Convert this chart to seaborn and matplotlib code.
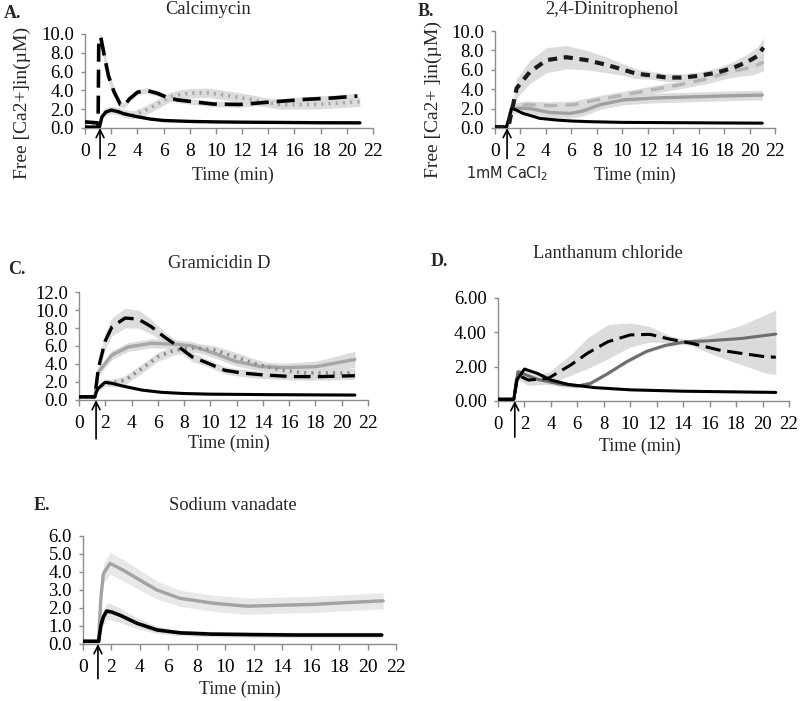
import numpy as np
import pandas as pd
import matplotlib
matplotlib.use("Agg")
import matplotlib.pyplot as plt
import seaborn as sns

# ---------------- data ----------------
# Panel A: Calcimycin
A_t_ctrl = [0, 1.1, 1.3, 1.6, 2.0, 2.5, 3, 4, 5, 6, 8, 10, 12, 14, 16, 18, 21]
A_ctrl = [0.1, 0.1, 1.2, 1.7, 1.9, 1.75, 1.5, 1.2, 0.95, 0.8, 0.7, 0.65, 0.62, 0.6, 0.58, 0.56, 0.55]
A_ctrl_err = [0.05, 0.05, 0.2, 0.25, 0.25, 0.2, 0.15, 0.1, 0.1, 0.1, 0.08, 0.08, 0.08, 0.08, 0.08, 0.08, 0.08]
A_t_calc = [0, 0.9, 1.0, 1.05, 1.2, 1.5, 1.8, 2.2, 2.7, 3.0, 3.4, 4.0, 4.7, 5.5, 6.2, 7.0, 8.2, 9.8, 11.8, 13.6, 15.0, 16.9, 19.0, 20.8]
A_calc = [0.65, 0.55, 0.3, 8.8, 9.7, 7.5, 5.5, 3.9, 2.5, 2.4, 3.1, 3.8, 4.0, 3.7, 3.3, 3.0, 2.8, 2.55, 2.5, 2.7, 2.85, 3.05, 3.2, 3.4]
A_calc_err = [0.05, 0.05, 0.1, 0.3, 0.4, 0.9, 0.7, 0.5, 0.3, 0.3, 0.3, 0.3, 0.3, 0.3, 0.3, 0.3, 0.3, 0.3, 0.3, 0.3, 0.3, 0.3, 0.3, 0.3]
A_t_dot = [0, 1.1, 1.3, 1.6, 2.0, 2.5, 3.0, 3.7, 4.5, 5.2, 6.0, 6.5, 7.2, 8.0, 9.3, 10.2, 11.1, 12.0, 12.8, 14.0, 14.9, 17.5, 21]
A_dot = [0.2, 0.2, 1.3, 1.8, 1.9, 1.8, 1.55, 1.4, 1.8, 2.3, 2.9, 3.3, 3.55, 3.7, 3.75, 3.6, 3.4, 3.2, 3.0, 2.7, 2.5, 2.5, 2.8]
A_dot_err = [0.05, 0.05, 0.3, 0.4, 0.4, 0.4, 0.4, 0.45, 0.5, 0.5, 0.5, 0.5, 0.5, 0.5, 0.5, 0.5, 0.5, 0.5, 0.5, 0.5, 0.5, 0.5, 0.5]

# Panel B: 2,4-Dinitrophenol
B_t_ctrl = [0, 0.9, 1.1, 1.3, 1.6, 2.2, 3.0, 3.5, 4.85, 6.0, 7.5, 10, 14, 18, 21]
B_ctrl = [0.1, 0.1, 1.0, 2.0, 1.9, 1.5, 1.2, 1.0, 0.82, 0.72, 0.65, 0.58, 0.55, 0.52, 0.5]
B_t_dnp = [0, 0.9, 1.1, 1.7, 2.75, 4.06, 5.6, 7.2, 8.8, 10.1, 11.1, 12.4, 13.5, 14.8, 16.1, 17.4, 18.7, 19.8, 20.6, 21.1]
B_dnp = [0.1, 0.1, 0.4, 4.1, 5.8, 7.0, 7.3, 7.0, 6.5, 6.0, 5.6, 5.4, 5.2, 5.2, 5.4, 5.7, 6.2, 6.8, 7.4, 8.3]
B_dnp_err = [0.0, 0.0, 0.3, 1.0, 1.2, 1.3, 1.2, 1.0, 0.8, 0.6, 0.5, 0.4, 0.4, 0.4, 0.4, 0.5, 0.6, 0.8, 0.9, 1.0]
B_t_g1 = [0, 0.9, 1.1, 1.3, 2.0, 2.75, 4.3, 5.9, 6.9, 8.25, 10.1, 12.7, 15.3, 17.9, 21]
B_g1 = [0.1, 0.1, 1.0, 2.0, 2.05, 2.0, 1.6, 1.5, 1.75, 2.4, 2.9, 3.1, 3.2, 3.3, 3.4]
B_g1_err = [0.0, 0.0, 0.3, 0.5, 0.5, 0.5, 0.5, 0.5, 0.5, 0.5, 0.5, 0.5, 0.5, 0.5, 0.5]
B_t_g2 = [0, 0.9, 1.1, 1.3, 2.5, 4.3, 6.2, 8.0, 10.1, 12.2, 14.3, 16.4, 18.5, 20.3, 21.1]
B_g2 = [0.1, 0.1, 1.0, 2.2, 2.4, 2.3, 2.4, 2.9, 3.4, 3.9, 4.4, 5.0, 5.8, 6.3, 6.8]
B_g2_err = [0.0, 0.0, 0.3, 0.4, 0.4, 0.4, 0.4, 0.4, 0.4, 0.4, 0.4, 0.5, 0.6, 0.8, 0.9]

# Panel C: Gramicidin D
C_t_ctrl = [0, 1.2, 1.4, 1.98, 2.5, 3.5, 4.8, 6.3, 8, 10, 14, 18, 21]
C_ctrl = [0.35, 0.35, 1.2, 1.97, 1.85, 1.5, 1.1, 0.85, 0.72, 0.65, 0.6, 0.57, 0.55]
C_ctrl_err = [0.05, 0.05, 0.2, 0.3, 0.3, 0.2, 0.15, 0.1, 0.1, 0.1, 0.1, 0.1, 0.1]
C_t_gram = [0, 1.2, 1.47, 1.98, 2.5, 3.5, 4.5, 5.5, 6.5, 7.6, 8.6, 9.8, 11.1, 12.4, 13.9, 16.2, 18.5, 21]
C_gram = [0.35, 0.35, 3.5, 6.5, 8.1, 9.1, 9.0, 8.15, 7.0, 5.9, 4.8, 4.1, 3.3, 3.0, 2.8, 2.6, 2.6, 2.7]
C_gram_err = [0.0, 0.0, 0.5, 0.9, 1.0, 1.1, 1.0, 0.8, 0.6, 0.5, 0.5, 0.4, 0.4, 0.4, 0.4, 0.4, 0.4, 0.4]
C_t_grey = [0, 1.2, 1.47, 2.5, 3.75, 5.5, 7.3, 8.6, 10.3, 11.9, 13.9, 15.7, 18.0, 21]
C_grey = [0.35, 0.35, 3.1, 5.0, 5.9, 6.3, 6.2, 6.0, 5.2, 4.3, 3.7, 3.6, 3.7, 4.5]
C_grey_err = [0.0, 0.0, 0.4, 0.5, 0.5, 0.5, 0.5, 0.5, 0.5, 0.5, 0.5, 0.5, 0.6, 0.9]
C_t_dot = [0, 1.2, 1.4, 2.0, 2.5, 3.5, 4.8, 6.0, 7.3, 8.8, 10.3, 11.9, 13.6, 15.4, 17.3, 21]
C_dot = [0.35, 0.35, 1.2, 1.95, 1.9, 2.2, 3.5, 4.8, 5.55, 5.8, 5.55, 4.8, 3.95, 3.3, 3.0, 3.0]
C_dot_err = [0.0, 0.0, 0.3, 0.4, 0.4, 0.5, 0.5, 0.5, 0.5, 0.5, 0.5, 0.5, 0.5, 0.5, 0.5, 0.5]

# Panel D: Lanthanum chloride
D_t_ctrl = [0, 1.2, 1.4, 2.0, 3.0, 4.0, 5.3, 7.3, 10, 14, 18, 21]
D_ctrl = [0.1, 0.1, 1.2, 1.86, 1.6, 1.22, 0.97, 0.78, 0.65, 0.57, 0.53, 0.5]
D_t_grey = [0, 1.2, 1.5, 3.0, 4.8, 6.0, 7.0, 8.3, 9.75, 11.25, 12.7, 14.2, 15.8, 18.5, 21]
D_grey = [0.1, 0.1, 1.7, 1.26, 0.97, 0.87, 1.03, 1.6, 2.3, 2.9, 3.25, 3.45, 3.5, 3.65, 3.9]
D_grey_err = [0.0, 0.0, 0.2, 0.2, 0.15, 0.1, 0.1, 0.1, 0.1, 0.1, 0.1, 0.1, 0.3, 0.8, 1.4]
D_t_lan = [0, 1.2, 1.5, 2.3, 3.8, 5.5, 6.8, 8.3, 10.0, 11.5, 13.0, 14.7, 16.7, 18.7, 20.2, 21]
D_lan = [0.1, 0.1, 1.5, 1.22, 1.32, 2.1, 2.8, 3.45, 3.85, 3.88, 3.6, 3.35, 2.97, 2.74, 2.58, 2.55]
D_lan_err = [0.0, 0.0, 0.3, 0.3, 0.35, 0.6, 0.9, 1.0, 0.7, 0.45, 0.2, 0.15, 0.4, 0.7, 0.95, 1.0]

# Panel E: Sodium vanadate
E_t_ctrl = [0, 1.1, 1.25, 1.43, 1.66, 2.0, 2.6, 3.8, 5.2, 6.8, 9, 12, 15, 18, 21]
E_ctrl = [0.15, 0.15, 1.0, 1.5, 1.83, 1.78, 1.6, 1.15, 0.78, 0.62, 0.55, 0.52, 0.5, 0.5, 0.5]
E_ctrl_err = [0.02, 0.02, 0.3, 0.4, 0.45, 0.45, 0.4, 0.3, 0.2, 0.15, 0.15, 0.15, 0.15, 0.15, 0.15]
E_t_van = [0, 1.1, 1.25, 1.43, 1.9, 2.83, 4.0, 5.2, 6.8, 9.2, 11.5, 13.8, 16.2, 18.5, 21.1]
E_van = [0.15, 0.15, 2.5, 3.9, 4.48, 4.1, 3.55, 3.0, 2.54, 2.26, 2.1, 2.15, 2.2, 2.3, 2.4]
E_van_err = [0.02, 0.02, 0.4, 0.55, 0.6, 0.6, 0.55, 0.5, 0.45, 0.45, 0.45, 0.45, 0.45, 0.45, 0.45]

x_ticks = list(range(0, 23, 2))
titles = ["Calcimycin", "2,4-Dinitrophenol", "Gramicidin D", "Lanthanum chloride", "Sodium vanadate"]
letters = ["A.", "B.", "C.", "D.", "E."]

# ---------------- style ----------------
sns.set_theme(style="ticks")
plt.rcParams['font.family'] = ['Liberation Serif', 'DejaVu Serif']
plt.rcParams['mathtext.fontset'] = 'dejavusans'

W, H = 800, 701
fig = plt.figure(figsize=(8, 7.01), dpi=100)

def add_ax(left, right, top, bottom):
    return fig.add_axes([left / W, 1 - bottom / H, (right - left) / W, (bottom - top) / H])

BAND = "#d9d9d9"

def band(ax, t, v, e, color=BAND, alpha=0.9):
    t = np.asarray(t); v = np.asarray(v); e = np.asarray(e)
    ax.fill_between(t, v - e, v + e, color=color, alpha=alpha, lw=0, zorder=1)

def line(ax, t, v, color, ls="-", lw=2.2, z=3):
    df = pd.DataFrame({"t": t, "v": v})
    style = (0, ls) if isinstance(ls, tuple) else ls
    sns.lineplot(data=df, x="t", y="v", ax=ax, color=color, lw=lw, zorder=z,
                 estimator=None, sort=False, linestyle=style)

def style_ax(ax, ymax, ystep, fmt, xsize=14):
    ax.set_xlim(0, 22)
    ax.set_ylim(0, ymax)
    ax.set_xticks(x_ticks)
    yt = np.arange(0, ymax + 1e-9, ystep)
    ax.set_yticks(yt)
    ax.set_yticklabels([fmt % y for y in yt])
    ax.set_xlabel(""); ax.set_ylabel("")
    for s in ["top", "right"]:
        ax.spines[s].set_visible(False)
    for s in ["left", "bottom"]:
        ax.spines[s].set_color("#8c8c8c")
        ax.spines[s].set_linewidth(1.0)
    ax.tick_params(axis="x", direction="out", length=4, width=1, color="#8c8c8c",
                   labelsize=xsize, pad=7, labelcolor="black")
    ax.tick_params(axis="y", direction="out", length=3, width=1, color="#8c8c8c",
                   labelsize=13.5, pad=5, labelcolor="black")
    ax.patch.set_alpha(0)

def arrow(ax, t, length_pt):
    ax.annotate("", xy=(t, 0), xycoords="data", xytext=(0, -length_pt), textcoords="offset points",
                annotation_clip=False,
                arrowprops=dict(arrowstyle="->", lw=1.2, color="black", mutation_scale=14, shrinkA=0, shrinkB=0))

DASH = (5, 2.2)
LDASH = (4, 2.5)
DOT = (0.6, 1.4)

# ---------- Panel A ----------
axA = add_ax(85, 373, 34, 128)
band(axA, A_t_calc, A_calc, A_calc_err)
band(axA, A_t_dot, A_dot, A_dot_err)
band(axA, A_t_ctrl, A_ctrl, A_ctrl_err)
line(axA, A_t_dot, A_dot, "#a6a6a6", DOT, lw=2.6, z=3)
line(axA, A_t_ctrl, A_ctrl, "black", "-", lw=2.4, z=4)
line(axA, A_t_calc, A_calc, "black", DASH, lw=2.6, z=5)
style_ax(axA, 10, 2, "%.1f")
arrow(axA, 1.15, 22)

# ---------- Panel B ----------
axB = add_ax(495, 775, 31, 128)
band(axB, B_t_dnp, B_dnp, B_dnp_err)
band(axB, B_t_g1, B_g1, B_g1_err)
band(axB, B_t_g2, B_g2, B_g2_err)
line(axB, B_t_g1, B_g1, "#a0a0a0", "-", lw=2.4, z=3)
line(axB, B_t_g2, B_g2, "#b3b3b3", LDASH, lw=2.4, z=3)
line(axB, B_t_ctrl, B_ctrl, "black", "-", lw=2.2, z=4)
line(axB, B_t_dnp, B_dnp, "#1a1a1a", (2.2, 1.6), lw=3.0, z=5)
style_ax(axB, 10, 2, "%.1f")
arrow(axB, 0.95, 22)

# ---------- Panel C ----------
axC = add_ax(79, 368, 292, 400)
band(axC, C_t_gram, C_gram, C_gram_err)
band(axC, C_t_grey, C_grey, C_grey_err)
band(axC, C_t_dot, C_dot, C_dot_err)
band(axC, C_t_ctrl, C_ctrl, C_ctrl_err)
line(axC, C_t_grey, C_grey, "#a6a6a6", "-", lw=2.4, z=3)
line(axC, C_t_dot, C_dot, "#8c8c8c", DOT, lw=2.6, z=3)
line(axC, C_t_ctrl, C_ctrl, "black", "-", lw=2.2, z=4)
line(axC, C_t_gram, C_gram, "black", DASH, lw=2.4, z=5)
style_ax(axC, 12, 2, "%.1f")
arrow(axC, 1.3, 28)

# ---------- Panel D ----------
axD = add_ax(498, 789, 298, 401)
band(axD, D_t_lan, D_lan, D_lan_err)
band(axD, D_t_grey, D_grey, D_grey_err)
line(axD, D_t_grey, D_grey, "#6e6e6e", "-", lw=2.2, z=3)
line(axD, D_t_ctrl, D_ctrl, "black", "-", lw=2.2, z=4)
line(axD, D_t_lan, D_lan, "black", DASH, lw=2.2, z=5)
style_ax(axD, 6, 2, "%.2f", xsize=13.5)
arrow(axD, 1.27, 26)

# ---------- Panel E ----------
axE = add_ax(83, 396, 536, 644)
band(axE, E_t_van, E_van, E_van_err, color="#e6e6e6")
band(axE, E_t_ctrl, E_ctrl, E_ctrl_err, color="#e0e0e0")
line(axE, E_t_van, E_van, "#a3a3a3", "-", lw=2.4, z=3)
line(axE, E_t_ctrl, E_ctrl, "black", "-", lw=2.6, z=4)
style_ax(axE, 6, 1, "%.1f")
arrow(axE, 1.05, 25)

# ---------------- texts ----------------
def ftext(x, y, s, **kw):
    fig.text(x / W, 1 - y / H, s, **kw)

title_pos = [(208, 10), (612, 9), (219, 263), (608, 253), (233, 505)]
letter_pos = [(4, 13), (418, 11), (8, 269), (431, 261), (34, 506)]
for (x, y), s in zip(title_pos, titles):
    ftext(x, y, s, ha="center", va="center", fontsize=13.3)
for (x, y), s in zip(letter_pos, letters):
    ftext(x, y, s, ha="left", va="center", fontsize=13, fontweight="bold")

xlabel_pos = [(233, 175), (635, 175), (229, 443), (640, 446), (240, 689)]
for (x, y) in xlabel_pos:
    ftext(x, y, "Time (min)", ha="center", va="center", fontsize=13)

ftext(22, 103, "Free [Ca2+]in(\u00b5M)", ha="center", va="center", rotation=90, fontsize=14)
ftext(433, 100, "Free [Ca2+ ]in(\u00b5M)", ha="center", va="center", rotation=90, fontsize=14)
ftext(507, 174, "1mM CaCl$_2$", ha="center", va="center", fontsize=10.5,
      family=["DejaVu Sans"])

fig.savefig("out.png", dpi=100, facecolor="white")
